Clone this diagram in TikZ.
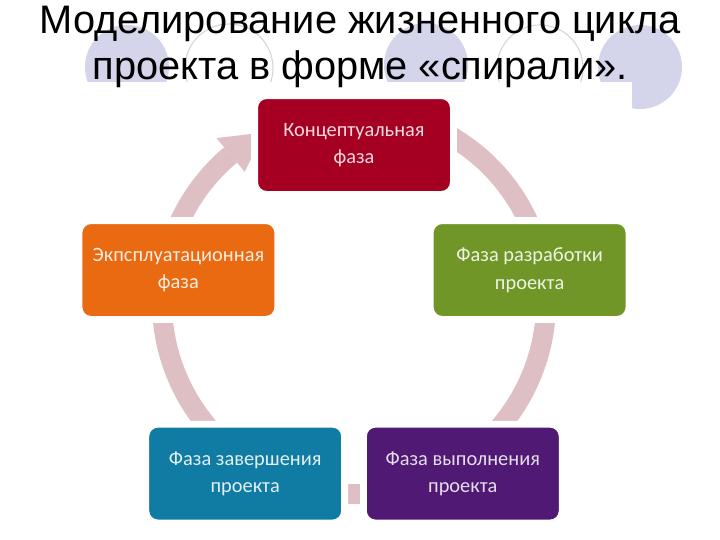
\documentclass[tikz,border=0pt]{standalone}
\usepackage{fontspec}
\setmainfont{Liberation Sans}
\newfontfamily\boxfont{Carlito}
\usepackage{xcolor}
\usetikzlibrary{positioning,calc}

\definecolor{phaseRed}{RGB}{165,0,33}
\definecolor{phaseGreen}{RGB}{112,150,40}
\definecolor{phasePurple}{RGB}{80,25,115}
\definecolor{phaseBlue}{RGB}{16,124,163}
\definecolor{phaseOrange}{RGB}{233,106,16}
\definecolor{ringPink}{RGB}{222,192,196}
\definecolor{lavender}{RGB}{212,212,234}
\definecolor{dotGray}{RGB}{215,215,215}

\begin{document}
\begin{tikzpicture}[
        phase/.style={draw=white, line width=0.17cm, rounded corners=0.3cm, minimum width=4.97cm, minimum height=2.47cm, inner sep=0pt, align=center, font=\boxfont\fontsize{14.5}{19.5}\selectfont},
        ring/.style={draw=ringPink, line width=0.5cm},
        dotfull/.style={fill=lavender},
        dotring/.style={draw=dotGray, line width=0.8pt},
        title/.style={anchor=north, inner sep=0pt, align=center, font=\fontsize{28.3}{32.5}\selectfont}
    ]

    \useasboundingbox[fill=white] (0,0) rectangle (18,-13.5);

    % ==========================================
    % Slide decoration behind the title
    % ==========================================
    \fill[dotfull] (3.175,-1.675) circle (1.05);
    \draw[dotring] (5.725,-1.7) circle (1.1);
    \fill[dotfull] (10.65,-1.625) circle (1.05);
    \draw[dotring] (13.5,-1.7) circle (1.075);
    \fill[dotfull] (16.0,-1.675) circle (1.05);
    \fill[white] (0,-2.05) rectangle (15.8,-13.5);

    % ==========================================
    % Cycle ring with arrow
    % ==========================================
    \coordinate (hub) at (8.85,-7.55);
    \draw[ring] ($(hub)+(110:4.8)$) arc[start angle=110, end angle=-230, radius=4.8];
    \fill[ringPink] ($(hub)+(130:5.35)$) -- ($(hub)+(118:4.8)$) -- ($(hub)+(130:4.25)$) -- cycle;

    % ==========================================
    % Phases
    % ==========================================
    \node[phase, fill=phaseRed, text=white!85!phaseRed] (concept) at (8.85,-3.625) {Концептуальная\\фаза};
    \node[phase, fill=phaseGreen, text=white!88!phaseGreen] (design) at (13.24,-6.75) {Фаза разработки\\проекта};
    \node[phase, fill=phasePurple, text=white!85!phasePurple] (execute) at (11.57,-11.84) {Фаза выполнения\\проекта};
    \node[phase, fill=phaseBlue, text=white!88!phaseBlue] (close) at (6.13,-11.84) {Фаза завершения\\проекта};
    \node[phase, fill=phaseOrange, text=white!88!phaseOrange] (operate) at (4.46,-6.75) {Экпсплуатационная\\фаза};

    % ==========================================
    % Title
    % ==========================================
    \node[title] (heading) at (9,-0.15) {Моделирование жизненного цикла\\проекта в форме «спирали».};

\end{tikzpicture}
\end{document}
